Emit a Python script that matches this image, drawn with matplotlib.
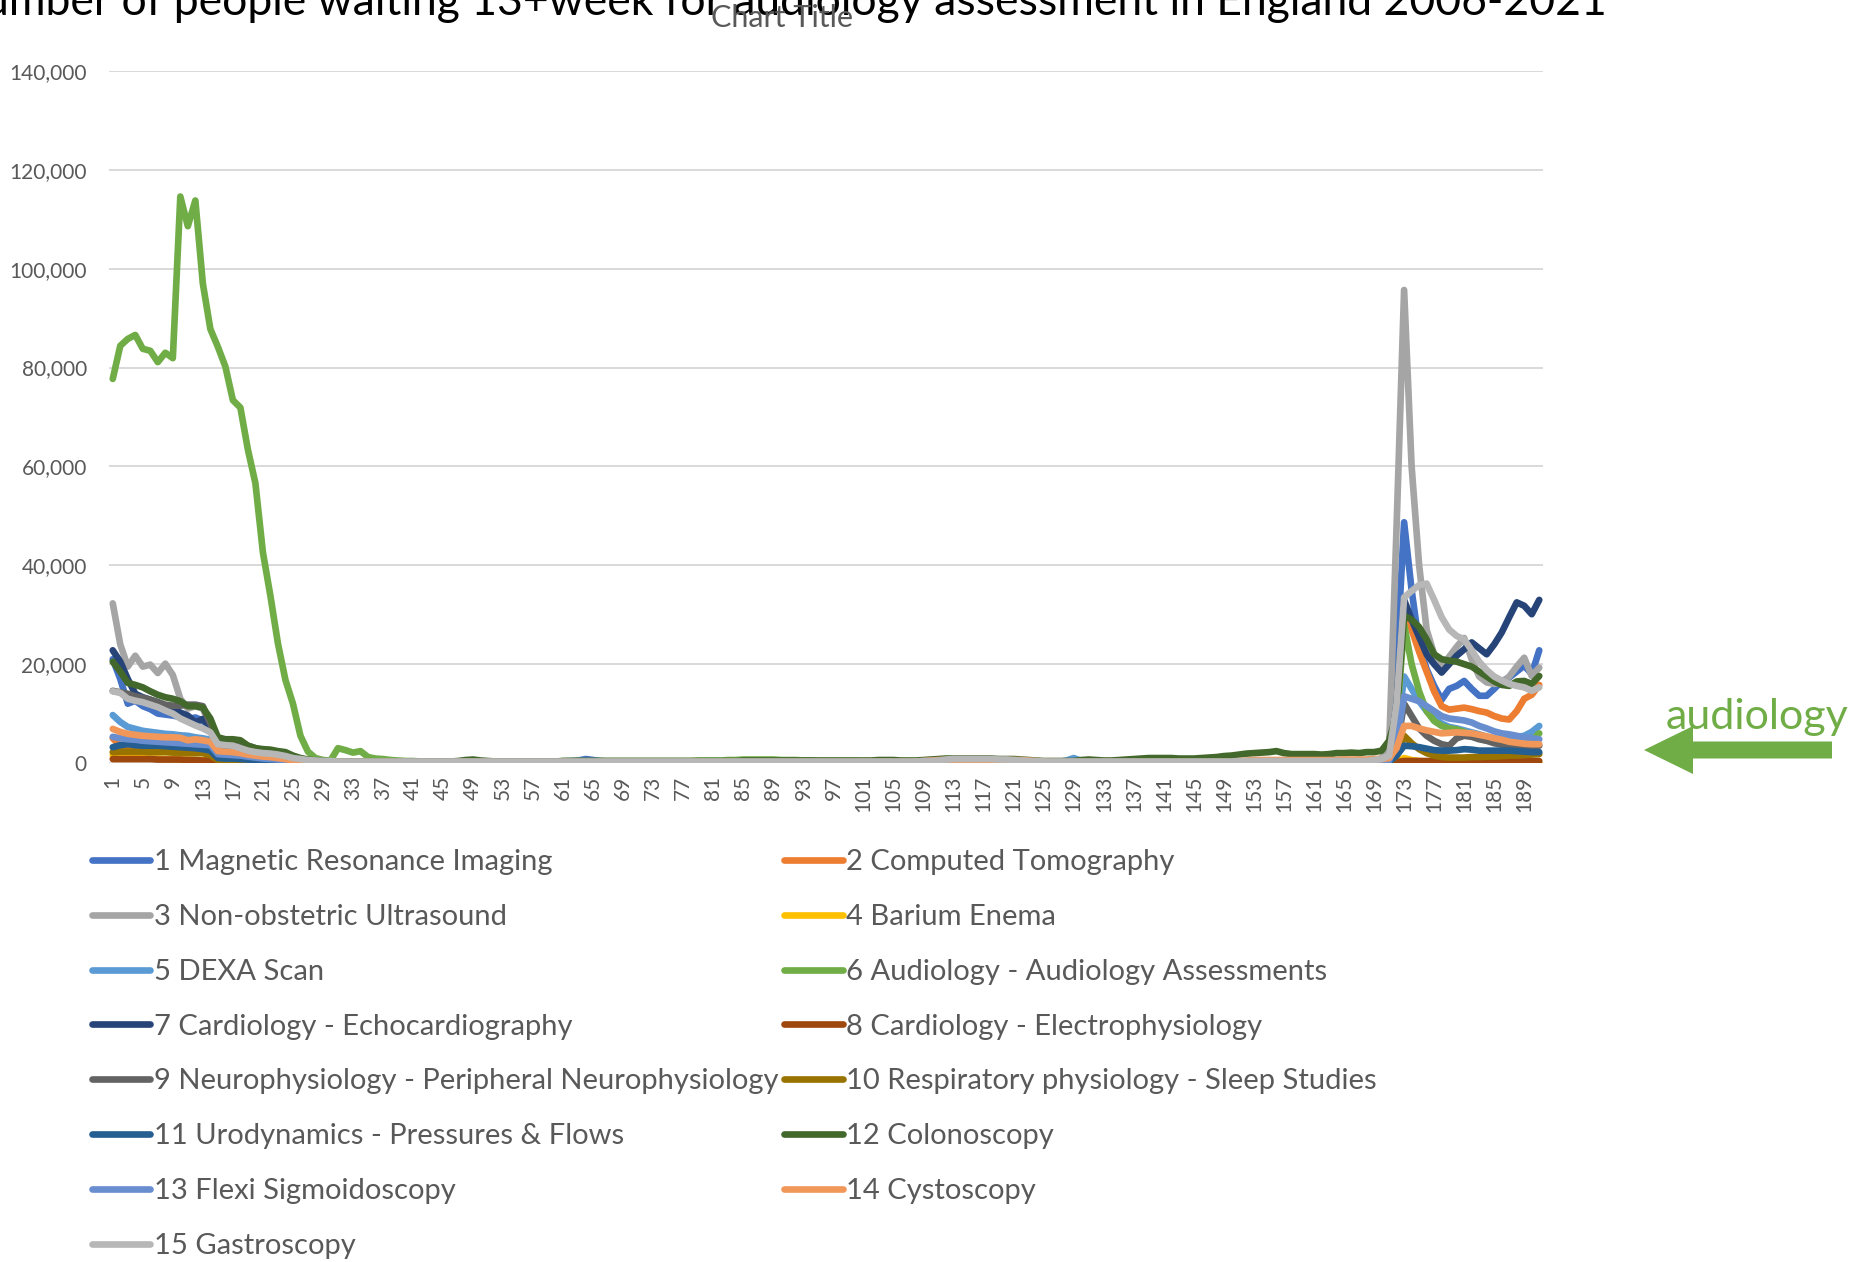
import numpy as np
import matplotlib
matplotlib.use("Agg")
import matplotlib.pyplot as plt
from matplotlib.patches import FancyArrow
from matplotlib.ticker import FuncFormatter

plt.rcParams['font.family'] = ['Lato', 'DejaVu Sans']

# values in thousands, one row = 10 periods (1..191)
mri = [21.0, 17.0, 12.0, 12.6, 11.5, 10.9, 10.0, 9.8, 9.6, 9.3,
       8.9, 9.2, 8.6, 7.0, 3.5, 3.3, 3.2, 2.8, 2.5, 2.0,
       1.5, 1.2, 1.0, 0.7, 0.5, 0.3, 0.2, 0.2, 0.2, 0.2,
       0.2, 0.2, 0.2, 0.2, 0.2, 0.2, 0.2, 0.2, 0.2, 0.2,
       0.2, 0.2, 0.2, 0.2, 0.2, 0.2, 0.2, 0.2, 0.2, 0.2,
       0.2, 0.2, 0.2, 0.2, 0.3, 0.3, 0.3, 0.3, 0.3, 0.3,
       0.3, 0.4, 0.5, 0.8, 0.6, 0.4, 0.3, 0.3, 0.3, 0.3,
       0.3, 0.3, 0.3, 0.3, 0.3, 0.3, 0.3, 0.3, 0.3, 0.3,
       0.3, 0.3, 0.3, 0.3, 0.3, 0.3, 0.3, 0.3, 0.3, 0.3,
       0.3, 0.3, 0.3, 0.3, 0.3, 0.3, 0.3, 0.3, 0.3, 0.3,
       0.3, 0.3, 0.3, 0.3, 0.3, 0.3, 0.3, 0.3, 0.3, 0.3,
       0.3, 0.3, 0.3, 0.3, 0.3, 0.3, 0.3, 0.3, 0.3, 0.3,
       0.3, 0.3, 0.3, 0.3, 0.3, 0.3, 0.3, 0.3, 0.3, 0.3,
       0.3, 0.3, 0.3, 0.3, 0.3, 0.3, 0.3, 0.3, 0.3, 0.3,
       0.3, 0.3, 0.3, 0.3, 0.3, 0.3, 0.3, 0.3, 0.3, 0.3,
       0.3, 0.3, 0.3, 0.3, 0.3, 0.3, 0.3, 0.3, 0.3, 0.3,
       0.3, 0.3, 0.3, 0.3, 0.3, 0.3, 0.3, 0.3, 0.4, 0.6,
       1.5, 20.0, 48.7, 35.0, 24.0, 19.0, 15.6, 12.8, 15.0, 15.6,
       16.6, 15.0, 13.6, 13.6, 15.0, 16.5, 17.3, 18.5, 19.7, 18.0,
       22.8]

ct = [5.0, 3.5, 3.2, 3.1, 3.0, 3.0, 2.9, 2.8, 2.8, 2.7,
      2.6, 2.5, 2.4, 2.2, 1.3, 1.2, 1.1, 1.0, 0.8, 0.7,
      0.6, 0.5, 0.4, 0.3, 0.2, 0.1, 0.1, 0.1, 0.1, 0.1,
      0.1, 0.1, 0.1, 0.1, 0.1, 0.1, 0.1, 0.1, 0.1, 0.1,
      0.1, 0.1, 0.1, 0.1, 0.1, 0.1, 0.1, 0.1, 0.1, 0.1,
      0.1, 0.1, 0.1, 0.1, 0.1, 0.1, 0.1, 0.1, 0.1, 0.1,
      0.1, 0.1, 0.1, 0.1, 0.1, 0.1, 0.1, 0.1, 0.1, 0.1,
      0.1, 0.1, 0.1, 0.1, 0.1, 0.1, 0.1, 0.1, 0.1, 0.1,
      0.1, 0.1, 0.1, 0.1, 0.1, 0.1, 0.1, 0.1, 0.1, 0.1,
      0.1, 0.1, 0.1, 0.1, 0.1, 0.1, 0.1, 0.1, 0.1, 0.1,
      0.1, 0.1, 0.1, 0.1, 0.1, 0.1, 0.1, 0.1, 0.1, 0.1,
      0.2, 0.2, 0.2, 0.2, 0.2, 0.2, 0.2, 0.2, 0.2, 0.2,
      0.2, 0.2, 0.2, 0.2, 0.1, 0.1, 0.1, 0.1, 0.1, 0.1,
      0.1, 0.1, 0.1, 0.1, 0.1, 0.1, 0.1, 0.1, 0.1, 0.1,
      0.1, 0.1, 0.1, 0.1, 0.1, 0.1, 0.1, 0.2, 0.2, 0.2,
      0.2, 0.2, 0.2, 0.2, 0.2, 0.2, 0.2, 0.2, 0.2, 0.2,
      0.2, 0.2, 0.2, 0.2, 0.2, 0.2, 0.2, 0.2, 0.3, 0.4,
      0.8, 12.0, 31.5, 27.0, 22.5, 18.5, 14.5, 11.5, 10.8, 11.0,
      11.2, 10.9, 10.5, 10.2, 9.5, 9.0, 8.8, 10.5, 13.0, 13.8,
      15.8]

nous = [32.3, 24.0, 19.5, 21.7, 19.5, 19.9, 18.2, 20.1, 17.8, 13.0,
        11.0, 11.5, 11.0, 7.5, 3.8, 3.6, 3.8, 3.3, 2.8, 2.5,
        2.2, 2.0, 1.8, 1.6, 1.2, 0.9, 0.6, 0.5, 0.4, 0.3,
        0.3, 0.3, 0.3, 0.3, 0.3, 0.3, 0.3, 0.3, 0.3, 0.3,
        0.3, 0.3, 0.3, 0.3, 0.3, 0.3, 0.3, 0.3, 0.3, 0.3,
        0.3, 0.3, 0.3, 0.3, 0.3, 0.3, 0.3, 0.3, 0.3, 0.3,
        0.3, 0.3, 0.3, 0.3, 0.3, 0.3, 0.3, 0.3, 0.3, 0.3,
        0.3, 0.3, 0.3, 0.3, 0.3, 0.3, 0.3, 0.3, 0.3, 0.3,
        0.3, 0.3, 0.3, 0.3, 0.3, 0.3, 0.3, 0.3, 0.3, 0.3,
        0.3, 0.3, 0.3, 0.3, 0.3, 0.3, 0.3, 0.3, 0.3, 0.3,
        0.3, 0.3, 0.3, 0.3, 0.3, 0.3, 0.3, 0.3, 0.3, 0.3,
        0.3, 0.3, 0.3, 0.3, 0.3, 0.3, 0.3, 0.3, 0.3, 0.3,
        0.3, 0.3, 0.3, 0.3, 0.3, 0.3, 0.3, 0.3, 0.3, 0.3,
        0.3, 0.3, 0.3, 0.3, 0.3, 0.3, 0.3, 0.3, 0.3, 0.3,
        0.3, 0.3, 0.3, 0.3, 0.3, 0.3, 0.3, 0.3, 0.3, 0.3,
        0.3, 0.3, 0.3, 0.3, 0.3, 0.3, 0.3, 0.3, 0.3, 0.3,
        0.3, 0.3, 0.3, 0.3, 0.3, 0.3, 0.3, 0.3, 0.5, 1.0,
        3.0, 48.0, 95.7, 60.0, 40.0, 27.0, 22.0, 19.0, 21.5, 23.5,
        25.3, 21.0, 17.5, 16.3, 16.0, 16.2, 17.5, 19.5, 21.3, 17.6,
        19.3]

barium = [1.6, 1.4, 1.2, 1.1, 1.0, 0.9, 0.9, 0.8, 0.8, 0.7,
          0.7, 0.6, 0.6, 0.5, 0.2, 0.1, 0.1, 0.1, 0.1, 0.1,
          0.0, 0.0, 0.0, 0.0, 0.0, 0.0, 0.0, 0.0, 0.0, 0.0,
          0.0, 0.0, 0.0, 0.0, 0.0, 0.0, 0.0, 0.0, 0.0, 0.0,
          0.0, 0.0, 0.0, 0.0, 0.0, 0.0, 0.0, 0.0, 0.0, 0.0,
          0.0, 0.0, 0.0, 0.0, 0.0, 0.0, 0.0, 0.0, 0.0, 0.0,
          0.0, 0.0, 0.0, 0.0, 0.0, 0.0, 0.0, 0.0, 0.0, 0.0,
          0.0, 0.0, 0.0, 0.0, 0.0, 0.0, 0.0, 0.0, 0.0, 0.0,
          0.0, 0.0, 0.0, 0.0, 0.0, 0.0, 0.0, 0.0, 0.0, 0.0,
          0.0, 0.0, 0.0, 0.0, 0.0, 0.0, 0.0, 0.0, 0.0, 0.0,
          0.0, 0.0, 0.0, 0.0, 0.0, 0.0, 0.0, 0.0, 0.0, 0.0,
          0.0, 0.0, 0.0, 0.0, 0.0, 0.0, 0.0, 0.0, 0.0, 0.0,
          0.0, 0.0, 0.0, 0.0, 0.0, 0.0, 0.0, 0.0, 0.0, 0.0,
          0.0, 0.0, 0.0, 0.0, 0.0, 0.0, 0.0, 0.0, 0.0, 0.0,
          0.0, 0.0, 0.0, 0.0, 0.0, 0.0, 0.0, 0.0, 0.0, 0.0,
          0.0, 0.0, 0.0, 0.0, 0.0, 0.0, 0.0, 0.0, 0.0, 0.0,
          0.0, 0.0, 0.0, 0.0, 0.0, 0.0, 0.0, 0.0, 0.0, 0.0,
          0.0, 0.3, 1.0, 0.6, 0.4, 0.3, 0.2, 0.2, 0.1, 0.1,
          0.1, 0.1, 0.1, 0.1, 0.1, 0.1, 0.1, 0.1, 0.1, 0.1,
          0.1]

dexa = [9.7, 8.3, 7.3, 6.9, 6.5, 6.3, 6.1, 5.9, 5.8, 5.6,
        5.5, 5.2, 5.0, 4.7, 2.5, 2.3, 2.2, 2.0, 1.8, 1.5,
        1.3, 1.1, 0.9, 0.6, 0.4, 0.2, 0.1, 0.1, 0.1, 0.1,
        0.1, 0.1, 0.1, 0.1, 0.1, 0.1, 0.1, 0.1, 0.1, 0.1,
        0.1, 0.1, 0.1, 0.1, 0.1, 0.1, 0.1, 0.1, 0.1, 0.1,
        0.1, 0.1, 0.1, 0.1, 0.1, 0.1, 0.1, 0.1, 0.1, 0.1,
        0.1, 0.1, 0.1, 0.1, 0.1, 0.1, 0.1, 0.1, 0.1, 0.1,
        0.1, 0.1, 0.1, 0.1, 0.1, 0.1, 0.1, 0.1, 0.1, 0.1,
        0.1, 0.1, 0.1, 0.1, 0.1, 0.1, 0.1, 0.1, 0.1, 0.1,
        0.1, 0.1, 0.1, 0.1, 0.1, 0.1, 0.1, 0.1, 0.1, 0.1,
        0.1, 0.1, 0.1, 0.1, 0.1, 0.1, 0.1, 0.1, 0.1, 0.1,
        0.1, 0.1, 0.1, 0.1, 0.1, 0.1, 0.1, 0.1, 0.1, 0.1,
        0.1, 0.1, 0.1, 0.1, 0.1, 0.1, 0.2, 0.5, 1.0, 0.4,
        0.1, 0.1, 0.1, 0.1, 0.1, 0.1, 0.1, 0.1, 0.1, 0.1,
        0.1, 0.1, 0.1, 0.1, 0.1, 0.1, 0.1, 0.1, 0.1, 0.1,
        0.1, 0.1, 0.1, 0.1, 0.1, 0.1, 0.1, 0.1, 0.1, 0.1,
        0.1, 0.1, 0.1, 0.1, 0.1, 0.1, 0.1, 0.1, 0.1, 0.2,
        0.5, 5.0, 17.5, 15.0, 12.5, 10.5, 9.0, 8.0, 7.3, 7.0,
        6.6, 6.2, 5.8, 5.3, 5.0, 4.8, 5.0, 5.3, 5.5, 6.3,
        7.5]

audiology = [77.7, 84.4, 85.8, 86.6, 83.8, 83.4, 81.1, 83.0, 81.9, 114.6,
             108.6, 113.8, 97.0, 87.8, 84.2, 80.2, 73.4, 71.9, 63.4, 56.6,
             42.6, 33.8, 24.2, 16.8, 12.0, 5.5, 2.3, 1.0, 0.6, 0.5,
             3.0, 2.6, 2.1, 2.4, 1.2, 0.9, 0.8, 0.6, 0.5, 0.4,
             0.4, 0.3, 0.3, 0.3, 0.3, 0.3, 0.3, 0.3, 0.3, 0.3,
             0.3, 0.3, 0.3, 0.3, 0.3, 0.3, 0.3, 0.3, 0.3, 0.3,
             0.4, 0.4, 0.4, 0.4, 0.4, 0.4, 0.4, 0.4, 0.4, 0.4,
             0.4, 0.4, 0.4, 0.4, 0.4, 0.4, 0.4, 0.4, 0.5, 0.5,
             0.5, 0.5, 0.6, 0.6, 0.7, 0.7, 0.7, 0.7, 0.7, 0.6,
             0.6, 0.6, 0.5, 0.5, 0.4, 0.4, 0.4, 0.4, 0.4, 0.4,
             0.3, 0.3, 0.3, 0.3, 0.3, 0.3, 0.3, 0.3, 0.3, 0.3,
             0.3, 0.3, 0.3, 0.3, 0.3, 0.3, 0.3, 0.3, 0.3, 0.3,
             0.3, 0.3, 0.3, 0.3, 0.3, 0.3, 0.3, 0.3, 0.3, 0.3,
             0.3, 0.3, 0.3, 0.3, 0.3, 0.3, 0.3, 0.3, 0.3, 0.3,
             0.3, 0.3, 0.3, 0.3, 0.3, 0.3, 0.3, 0.3, 0.3, 0.3,
             0.3, 0.3, 0.3, 0.3, 0.3, 0.3, 0.3, 0.3, 0.3, 0.3,
             0.3, 0.3, 0.3, 0.3, 0.3, 0.3, 0.3, 0.3, 0.4, 0.5,
             1.0, 8.0, 28.0, 20.0, 14.5, 10.5, 8.5, 7.5, 7.0, 6.8,
             6.3, 5.5, 5.0, 4.5, 4.5, 4.2, 4.0, 3.8, 3.8, 4.6,
             6.0]

echo = [22.8, 20.5, 17.0, 14.0, 13.3, 12.8, 12.3, 11.6, 11.0, 10.2,
        9.6, 8.2, 8.9, 7.2, 3.5, 3.0, 3.5, 2.8, 2.3, 2.0,
        1.6, 1.3, 1.0, 0.8, 0.5, 0.3, 0.2, 0.2, 0.2, 0.2,
        0.2, 0.2, 0.2, 0.2, 0.2, 0.2, 0.2, 0.2, 0.2, 0.2,
        0.2, 0.2, 0.2, 0.2, 0.2, 0.2, 0.2, 0.2, 0.2, 0.2,
        0.2, 0.2, 0.2, 0.2, 0.2, 0.2, 0.2, 0.2, 0.2, 0.2,
        0.2, 0.2, 0.2, 0.2, 0.2, 0.2, 0.2, 0.2, 0.2, 0.2,
        0.2, 0.2, 0.2, 0.2, 0.2, 0.2, 0.2, 0.2, 0.2, 0.2,
        0.2, 0.2, 0.2, 0.2, 0.2, 0.2, 0.2, 0.2, 0.2, 0.2,
        0.2, 0.2, 0.2, 0.2, 0.2, 0.2, 0.2, 0.2, 0.2, 0.2,
        0.2, 0.2, 0.2, 0.2, 0.2, 0.2, 0.2, 0.2, 0.2, 0.2,
        0.2, 0.2, 0.2, 0.2, 0.2, 0.2, 0.2, 0.2, 0.2, 0.2,
        0.2, 0.2, 0.2, 0.2, 0.2, 0.2, 0.2, 0.2, 0.2, 0.2,
        0.2, 0.2, 0.2, 0.2, 0.2, 0.2, 0.2, 0.2, 0.2, 0.2,
        0.2, 0.2, 0.2, 0.2, 0.2, 0.2, 0.2, 0.2, 0.2, 0.2,
        0.2, 0.2, 0.2, 0.2, 0.2, 0.2, 0.2, 0.2, 0.2, 0.2,
        0.2, 0.2, 0.2, 0.2, 0.2, 0.2, 0.2, 0.2, 0.3, 0.5,
        1.0, 12.0, 33.0, 29.0, 25.5, 22.0, 20.0, 18.3, 20.0, 21.7,
        23.0, 24.4, 23.2, 22.0, 24.0, 26.4, 29.5, 32.5, 31.8, 30.1,
        33.0]

electro = [0.8, 0.8, 0.8, 0.8, 0.8, 0.8, 0.7, 0.7, 0.7, 0.7,
           0.6, 0.6, 0.5, 0.5, 0.1, 0.1, 0.1, 0.1, 0.1, 0.1,
           0.1, 0.0, 0.0, 0.0, 0.0, 0.0, 0.0, 0.0, 0.0, 0.0,
           0.0, 0.0, 0.0, 0.0, 0.0, 0.0, 0.0, 0.0, 0.0, 0.0,
           0.0, 0.0, 0.0, 0.0, 0.0, 0.0, 0.0, 0.0, 0.0, 0.0,
           0.0, 0.0, 0.0, 0.0, 0.0, 0.0, 0.0, 0.0, 0.0, 0.0,
           0.0, 0.0, 0.0, 0.0, 0.0, 0.0, 0.0, 0.0, 0.0, 0.0,
           0.0, 0.0, 0.0, 0.0, 0.0, 0.0, 0.0, 0.0, 0.0, 0.0,
           0.0, 0.0, 0.0, 0.0, 0.0, 0.0, 0.0, 0.0, 0.0, 0.0,
           0.0, 0.0, 0.0, 0.0, 0.0, 0.0, 0.0, 0.0, 0.0, 0.0,
           0.0, 0.0, 0.0, 0.0, 0.0, 0.0, 0.0, 0.0, 0.0, 0.0,
           0.0, 0.0, 0.0, 0.0, 0.0, 0.0, 0.0, 0.0, 0.0, 0.0,
           0.0, 0.0, 0.0, 0.0, 0.0, 0.0, 0.0, 0.0, 0.0, 0.0,
           0.0, 0.0, 0.0, 0.0, 0.0, 0.0, 0.0, 0.0, 0.0, 0.0,
           0.0, 0.0, 0.0, 0.0, 0.0, 0.0, 0.0, 0.0, 0.0, 0.0,
           0.0, 0.0, 0.0, 0.0, 0.0, 0.0, 0.0, 0.0, 0.0, 0.0,
           0.0, 0.0, 0.0, 0.0, 0.0, 0.0, 0.0, 0.0, 0.0, 0.0,
           0.1, 0.2, 0.4, 0.4, 0.4, 0.4, 0.4, 0.4, 0.4, 0.4,
           0.4, 0.4, 0.4, 0.4, 0.4, 0.4, 0.4, 0.4, 0.4, 0.4,
           0.4]

neuro = [14.6, 14.3, 14.0, 13.5, 13.2, 12.8, 12.3, 11.8, 11.6, 11.6,
         11.8, 11.8, 11.5, 8.0, 4.8, 4.5, 4.5, 4.3, 3.5, 3.0,
         2.6, 2.4, 2.2, 1.8, 1.3, 0.8, 0.5, 0.4, 0.3, 0.3,
         0.2, 0.2, 0.2, 0.2, 0.2, 0.2, 0.2, 0.2, 0.2, 0.2,
         0.2, 0.2, 0.2, 0.2, 0.2, 0.2, 0.2, 0.2, 0.2, 0.2,
         0.2, 0.2, 0.2, 0.2, 0.2, 0.2, 0.2, 0.2, 0.2, 0.2,
         0.2, 0.2, 0.2, 0.2, 0.2, 0.2, 0.2, 0.2, 0.2, 0.2,
         0.2, 0.2, 0.2, 0.2, 0.2, 0.2, 0.2, 0.2, 0.2, 0.2,
         0.2, 0.2, 0.2, 0.2, 0.2, 0.2, 0.2, 0.2, 0.2, 0.2,
         0.2, 0.2, 0.2, 0.2, 0.2, 0.2, 0.2, 0.2, 0.2, 0.2,
         0.2, 0.2, 0.2, 0.2, 0.2, 0.2, 0.2, 0.2, 0.2, 0.2,
         0.2, 0.2, 0.2, 0.2, 0.2, 0.2, 0.2, 0.2, 0.2, 0.2,
         0.2, 0.2, 0.2, 0.2, 0.2, 0.2, 0.2, 0.2, 0.2, 0.2,
         0.2, 0.2, 0.2, 0.2, 0.2, 0.2, 0.2, 0.2, 0.2, 0.2,
         0.2, 0.2, 0.2, 0.2, 0.2, 0.2, 0.2, 0.2, 0.2, 0.2,
         0.2, 0.2, 0.2, 0.2, 0.2, 0.2, 0.2, 0.2, 0.2, 0.2,
         0.2, 0.2, 0.2, 0.2, 0.2, 0.2, 0.2, 0.2, 0.2, 0.3,
         0.5, 3.0, 12.0, 9.5, 7.0, 5.5, 4.5, 3.8, 3.5, 5.0,
         5.5, 5.3, 4.8, 4.5, 4.0, 3.7, 3.5, 3.3, 3.2, 3.3,
         3.5]

sleep = [2.2, 2.3, 2.3, 2.3, 2.3, 2.2, 2.2, 2.2, 2.1, 2.1,
         2.0, 2.0, 2.0, 1.6, 0.6, 0.5, 0.5, 0.4, 0.4, 0.3,
         0.3, 0.2, 0.2, 0.1, 0.1, 0.1, 0.1, 0.1, 0.1, 0.1,
         0.1, 0.1, 0.1, 0.1, 0.1, 0.1, 0.1, 0.1, 0.1, 0.1,
         0.1, 0.1, 0.1, 0.1, 0.1, 0.1, 0.1, 0.1, 0.1, 0.1,
         0.1, 0.1, 0.1, 0.1, 0.1, 0.1, 0.1, 0.1, 0.1, 0.1,
         0.1, 0.1, 0.1, 0.1, 0.1, 0.1, 0.1, 0.1, 0.1, 0.1,
         0.1, 0.1, 0.1, 0.1, 0.1, 0.1, 0.1, 0.1, 0.1, 0.1,
         0.1, 0.1, 0.1, 0.1, 0.1, 0.1, 0.1, 0.1, 0.1, 0.1,
         0.1, 0.1, 0.1, 0.1, 0.1, 0.1, 0.1, 0.1, 0.1, 0.1,
         0.1, 0.1, 0.1, 0.1, 0.1, 0.1, 0.1, 0.1, 0.1, 0.1,
         0.1, 0.1, 0.1, 0.1, 0.1, 0.1, 0.1, 0.1, 0.1, 0.1,
         0.1, 0.1, 0.1, 0.1, 0.1, 0.1, 0.1, 0.1, 0.1, 0.1,
         0.1, 0.1, 0.1, 0.1, 0.1, 0.1, 0.1, 0.1, 0.1, 0.1,
         0.1, 0.1, 0.1, 0.1, 0.1, 0.1, 0.1, 0.1, 0.1, 0.1,
         0.1, 0.1, 0.1, 0.1, 0.1, 0.1, 0.1, 0.1, 0.1, 0.1,
         0.1, 0.1, 0.1, 0.1, 0.1, 0.1, 0.1, 0.1, 0.1, 0.1,
         0.2, 1.5, 5.5, 4.0, 2.8, 2.0, 1.5, 1.2, 1.1, 1.1,
         1.1, 1.2, 1.2, 1.3, 1.3, 1.4, 1.5, 1.5, 1.6, 1.7,
         1.8]

urodyn = [3.2, 3.6, 3.8, 3.6, 3.5, 3.5, 3.5, 3.4, 3.3, 3.2,
          3.1, 3.0, 2.8, 2.5, 1.0, 0.9, 0.9, 0.8, 0.7, 0.6,
          0.5, 0.4, 0.3, 0.2, 0.2, 0.1, 0.1, 0.1, 0.1, 0.1,
          0.1, 0.1, 0.1, 0.1, 0.1, 0.1, 0.1, 0.1, 0.1, 0.1,
          0.1, 0.1, 0.1, 0.1, 0.1, 0.1, 0.1, 0.1, 0.1, 0.1,
          0.1, 0.1, 0.1, 0.1, 0.1, 0.1, 0.1, 0.1, 0.1, 0.1,
          0.1, 0.1, 0.1, 0.1, 0.1, 0.1, 0.1, 0.1, 0.1, 0.1,
          0.1, 0.1, 0.1, 0.1, 0.1, 0.1, 0.1, 0.1, 0.1, 0.1,
          0.1, 0.1, 0.1, 0.1, 0.1, 0.1, 0.1, 0.1, 0.1, 0.1,
          0.1, 0.1, 0.1, 0.1, 0.1, 0.1, 0.1, 0.1, 0.1, 0.1,
          0.1, 0.1, 0.1, 0.1, 0.1, 0.1, 0.1, 0.1, 0.1, 0.1,
          0.1, 0.1, 0.1, 0.1, 0.1, 0.1, 0.1, 0.1, 0.1, 0.1,
          0.1, 0.1, 0.1, 0.1, 0.1, 0.1, 0.1, 0.1, 0.1, 0.1,
          0.1, 0.1, 0.1, 0.1, 0.1, 0.1, 0.1, 0.1, 0.1, 0.1,
          0.1, 0.1, 0.1, 0.1, 0.1, 0.1, 0.1, 0.1, 0.1, 0.1,
          0.1, 0.1, 0.1, 0.1, 0.1, 0.1, 0.1, 0.1, 0.1, 0.1,
          0.1, 0.1, 0.1, 0.1, 0.1, 0.1, 0.1, 0.1, 0.1, 0.1,
          0.3, 1.5, 3.5, 3.4, 3.2, 2.9, 2.6, 2.5, 2.5, 2.6,
          2.8, 2.7, 2.5, 2.5, 2.5, 2.5, 2.5, 2.4, 2.3, 2.2,
          2.2]

colonoscopy = [20.5, 18.5, 16.2, 15.8, 15.3, 14.5, 13.8, 13.3, 13.0, 12.5,
               11.5, 11.5, 11.2, 9.0, 5.2, 4.8, 4.8, 4.6, 3.5, 3.0,
               2.8, 2.7, 2.4, 2.2, 1.5, 1.0, 0.7, 0.5, 0.4, 0.3,
               0.3, 0.3, 0.3, 0.3, 0.3, 0.3, 0.3, 0.3, 0.3, 0.3,
               0.3, 0.3, 0.3, 0.3, 0.3, 0.3, 0.4, 0.6, 0.7, 0.5,
               0.4, 0.3, 0.3, 0.3, 0.3, 0.3, 0.3, 0.3, 0.3, 0.3,
               0.4, 0.4, 0.4, 0.4, 0.4, 0.4, 0.4, 0.4, 0.4, 0.4,
               0.4, 0.4, 0.4, 0.4, 0.4, 0.4, 0.4, 0.4, 0.4, 0.4,
               0.4, 0.4, 0.4, 0.4, 0.5, 0.5, 0.5, 0.5, 0.5, 0.5,
               0.5, 0.5, 0.5, 0.5, 0.5, 0.5, 0.5, 0.5, 0.5, 0.5,
               0.5, 0.5, 0.6, 0.6, 0.6, 0.5, 0.5, 0.5, 0.6, 0.7,
               0.8, 0.9, 0.9, 0.9, 0.9, 0.9, 0.9, 0.9, 0.8, 0.8,
               0.8, 0.7, 0.6, 0.5, 0.4, 0.4, 0.4, 0.4, 0.4, 0.6,
               0.7, 0.6, 0.5, 0.5, 0.6, 0.7, 0.8, 0.9, 1.0, 1.0,
               1.0, 1.0, 0.9, 0.9, 0.9, 1.0, 1.1, 1.2, 1.4, 1.5,
               1.7, 1.9, 2.0, 2.1, 2.2, 2.4, 2.0, 1.8, 1.8, 1.8,
               1.8, 1.7, 1.8, 2.0, 2.0, 2.1, 2.0, 2.2, 2.2, 2.5,
               4.5, 10.0, 29.8, 29.0, 27.5, 25.0, 22.0, 21.0, 20.7, 20.5,
               20.0, 19.5, 18.5, 17.5, 16.5, 15.8, 15.6, 16.5, 16.6, 16.0,
               17.6]

flexi = [5.3, 5.0, 4.8, 4.7, 4.5, 4.4, 4.3, 4.2, 4.1, 4.0,
         3.9, 3.8, 3.7, 3.6, 1.8, 1.7, 1.6, 1.5, 1.3, 1.1,
         0.9, 0.8, 0.7, 0.5, 0.3, 0.2, 0.1, 0.1, 0.1, 0.1,
         0.1, 0.1, 0.1, 0.1, 0.1, 0.1, 0.1, 0.1, 0.1, 0.1,
         0.1, 0.1, 0.1, 0.1, 0.1, 0.1, 0.1, 0.1, 0.1, 0.1,
         0.1, 0.1, 0.1, 0.1, 0.1, 0.1, 0.1, 0.1, 0.1, 0.1,
         0.1, 0.1, 0.1, 0.1, 0.1, 0.1, 0.1, 0.1, 0.1, 0.1,
         0.1, 0.1, 0.1, 0.1, 0.1, 0.1, 0.1, 0.1, 0.1, 0.1,
         0.1, 0.1, 0.1, 0.1, 0.1, 0.1, 0.1, 0.1, 0.1, 0.1,
         0.1, 0.1, 0.1, 0.1, 0.1, 0.1, 0.1, 0.1, 0.1, 0.1,
         0.1, 0.1, 0.1, 0.1, 0.1, 0.1, 0.1, 0.1, 0.1, 0.1,
         0.1, 0.1, 0.1, 0.1, 0.1, 0.1, 0.1, 0.1, 0.1, 0.1,
         0.1, 0.1, 0.1, 0.1, 0.1, 0.1, 0.1, 0.1, 0.1, 0.1,
         0.1, 0.1, 0.1, 0.1, 0.1, 0.1, 0.1, 0.1, 0.1, 0.1,
         0.1, 0.1, 0.1, 0.1, 0.1, 0.1, 0.1, 0.1, 0.1, 0.1,
         0.1, 0.1, 0.1, 0.1, 0.1, 0.1, 0.1, 0.1, 0.1, 0.1,
         0.1, 0.1, 0.1, 0.1, 0.1, 0.1, 0.1, 0.1, 0.1, 0.1,
         0.5, 4.0, 13.5, 13.0, 12.5, 11.5, 10.5, 9.5, 9.0, 8.8,
         8.6, 8.2, 7.5, 7.0, 6.4, 6.0, 5.8, 5.5, 5.2, 5.0,
         4.8]

cystoscopy = [6.9, 6.3, 5.9, 5.7, 5.5, 5.4, 5.3, 5.2, 5.2, 5.1,
              4.6, 4.8, 4.6, 4.3, 2.4, 2.3, 2.2, 2.0, 1.7, 1.5,
              1.3, 1.2, 1.0, 0.8, 0.5, 0.3, 0.2, 0.2, 0.2, 0.2,
              0.2, 0.2, 0.2, 0.2, 0.2, 0.2, 0.2, 0.2, 0.2, 0.2,
              0.2, 0.2, 0.2, 0.2, 0.2, 0.2, 0.2, 0.2, 0.2, 0.2,
              0.2, 0.2, 0.2, 0.2, 0.2, 0.2, 0.2, 0.2, 0.2, 0.2,
              0.2, 0.2, 0.2, 0.2, 0.2, 0.2, 0.2, 0.2, 0.2, 0.2,
              0.2, 0.2, 0.2, 0.2, 0.2, 0.2, 0.2, 0.2, 0.2, 0.2,
              0.2, 0.2, 0.2, 0.2, 0.2, 0.2, 0.2, 0.2, 0.2, 0.2,
              0.2, 0.2, 0.2, 0.2, 0.2, 0.2, 0.2, 0.2, 0.2, 0.2,
              0.2, 0.2, 0.2, 0.2, 0.2, 0.2, 0.2, 0.3, 0.4, 0.5,
              0.6, 0.6, 0.6, 0.6, 0.6, 0.6, 0.6, 0.6, 0.6, 0.6,
              0.6, 0.6, 0.5, 0.4, 0.3, 0.2, 0.2, 0.2, 0.2, 0.2,
              0.2, 0.2, 0.2, 0.2, 0.2, 0.2, 0.2, 0.2, 0.2, 0.2,
              0.2, 0.2, 0.2, 0.2, 0.2, 0.2, 0.2, 0.2, 0.2, 0.2,
              0.4, 0.5, 0.6, 0.6, 0.6, 0.6, 0.6, 0.6, 0.6, 0.6,
              0.6, 0.6, 0.6, 0.6, 0.7, 0.7, 0.7, 0.7, 0.8, 0.8,
              1.0, 3.0, 7.5, 7.5, 7.0, 6.6, 6.3, 6.0, 6.1, 6.2,
              6.1, 6.0, 5.7, 5.4, 5.0, 4.7, 4.3, 4.1, 3.9, 3.8,
              3.8]

gastro = [14.5, 14.2, 13.0, 12.6, 12.3, 11.8, 11.3, 10.6, 10.0, 9.0,
          8.3, 7.6, 7.0, 6.2, 3.8, 3.6, 3.5, 3.0, 2.5, 2.2,
          2.0, 1.9, 1.7, 1.4, 1.0, 0.8, 0.6, 0.5, 0.4, 0.4,
          0.3, 0.3, 0.3, 0.3, 0.3, 0.3, 0.3, 0.3, 0.3, 0.3,
          0.3, 0.3, 0.3, 0.3, 0.3, 0.3, 0.3, 0.3, 0.3, 0.3,
          0.3, 0.3, 0.3, 0.3, 0.3, 0.3, 0.3, 0.3, 0.3, 0.3,
          0.3, 0.3, 0.3, 0.3, 0.3, 0.3, 0.3, 0.3, 0.3, 0.3,
          0.3, 0.3, 0.3, 0.3, 0.3, 0.3, 0.3, 0.3, 0.3, 0.3,
          0.3, 0.3, 0.3, 0.3, 0.3, 0.3, 0.3, 0.3, 0.3, 0.3,
          0.3, 0.3, 0.3, 0.3, 0.3, 0.3, 0.3, 0.3, 0.3, 0.3,
          0.3, 0.3, 0.3, 0.3, 0.3, 0.3, 0.3, 0.3, 0.4, 0.4,
          0.5, 0.7, 0.8, 0.8, 0.8, 0.8, 0.8, 0.8, 0.7, 0.7,
          0.6, 0.5, 0.4, 0.4, 0.3, 0.3, 0.3, 0.3, 0.3, 0.3,
          0.3, 0.3, 0.3, 0.3, 0.3, 0.3, 0.3, 0.3, 0.3, 0.3,
          0.3, 0.3, 0.3, 0.3, 0.3, 0.3, 0.3, 0.3, 0.3, 0.3,
          0.4, 0.4, 0.4, 0.4, 0.4, 0.4, 0.4, 0.4, 0.4, 0.4,
          0.4, 0.4, 0.4, 0.4, 0.4, 0.4, 0.4, 0.4, 0.6, 0.8,
          1.5, 12.0, 33.5, 34.8, 36.0, 36.3, 33.0, 29.5, 27.0, 25.7,
          25.0, 22.8, 20.5, 18.8, 17.5, 16.7, 16.0, 15.6, 15.3, 14.6,
          15.3]

labels = ["1 Magnetic Resonance Imaging", "2 Computed Tomography",
          "3 Non-obstetric Ultrasound", "4 Barium Enema", "5 DEXA Scan",
          "6 Audiology - Audiology Assessments",
          "7 Cardiology - Echocardiography", "8 Cardiology - Electrophysiology",
          "9 Neurophysiology - Peripheral Neurophysiology",
          "10 Respiratory physiology - Sleep Studies",
          "11 Urodynamics - Pressures & Flows", "12 Colonoscopy",
          "13 Flexi Sigmoidoscopy", "14 Cystoscopy", "15 Gastroscopy"]
colors = ["#4472C4", "#ED7D31", "#A5A5A5", "#FFC000", "#5B9BD5", "#70AD47",
          "#264478", "#9E480E", "#636363", "#997300", "#255E91", "#43682B",
          "#698ED0", "#F1975A", "#B7B7B7"]
series = [mri, ct, nous, barium, dexa, audiology, echo, electro, neuro,
          sleep, urodyn, colonoscopy, flexi, cystoscopy, gastro]

W, H = 1858, 1262
fig = plt.figure(figsize=(W / 100, H / 100), dpi=100)
ax = fig.add_axes([109 / W, 1 - 763 / H, (1543 - 109) / W, (763 - 71) / H])

handles = []
for lab, vals, col in zip(labels, series, colors):
    y = np.array(vals) * 1000
    x = np.arange(1, len(y) + 1)
    h, = ax.plot(x, y, color=col, lw=4.8, solid_joinstyle='round',
                 solid_capstyle='round', label=lab)
    handles.append(h)

ax.set_xlim(0.5, 191.5)
ax.set_ylim(0, 140000)
ax.set_yticks(np.arange(0, 140001, 20000))
ax.yaxis.set_major_formatter(FuncFormatter(lambda v, p: f"{v:,.0f}"))
ax.set_xticks(np.arange(1, 192, 4))
ax.set_xticklabels([str(t) for t in range(1, 192, 4)], rotation=90)
ax.tick_params(axis='both', length=0, labelsize=15, labelcolor='#595959')
ax.tick_params(axis='y', pad=16)
ax.tick_params(axis='x', pad=9)
for s in ax.spines.values():
    s.set_visible(False)
ax.yaxis.grid(True, color='#D9D9D9', lw=1.4)
ax.set_axisbelow(True)

# legend laid out row-wise like Excel: odd numbers left, even right
order = [0, 2, 4, 6, 8, 10, 12, 14, 1, 3, 5, 7, 9, 11, 13]
fig.legend([handles[i] for i in order], [labels[i] for i in order],
           ncol=2, loc='upper left', bbox_to_anchor=(92 / W, 1 - 849 / H),
           frameon=False, fontsize=21, labelcolor='#595959',
           handlelength=2.0, handletextpad=0.12, columnspacing=0.2,
           labelspacing=0.99, borderpad=0, borderaxespad=0)

# titles (the big one is partly cut off in the original)
fig.text(1607 / W, 1 - 15 / H, "Number of people waiting 13+week for audiology assessment in England 2006-2021",
         ha='right', va='baseline', fontsize=32, color='black', zorder=1)
fig.text(782 / W, 1 - 18 / H, "Chart Title", ha='center', va='center',
         fontsize=22, color='#595959', zorder=2)

# audiology call-out with arrow
fig.text(1757 / W, 1 - 729 / H, "audiology", ha='center', va='baseline',
         fontsize=31, color='#70AD47')
ov = fig.add_axes([0, 0, 1, 1], facecolor='none')
ov.set_xlim(0, W)
ov.set_ylim(H, 0)
ov.axis('off')
ov.add_patch(FancyArrow(1832, 750, -188, 0, width=17, head_width=48,
                        head_length=49, length_includes_head=True,
                        color='#70AD47', lw=0))

fig.savefig("out.png", dpi=100)
